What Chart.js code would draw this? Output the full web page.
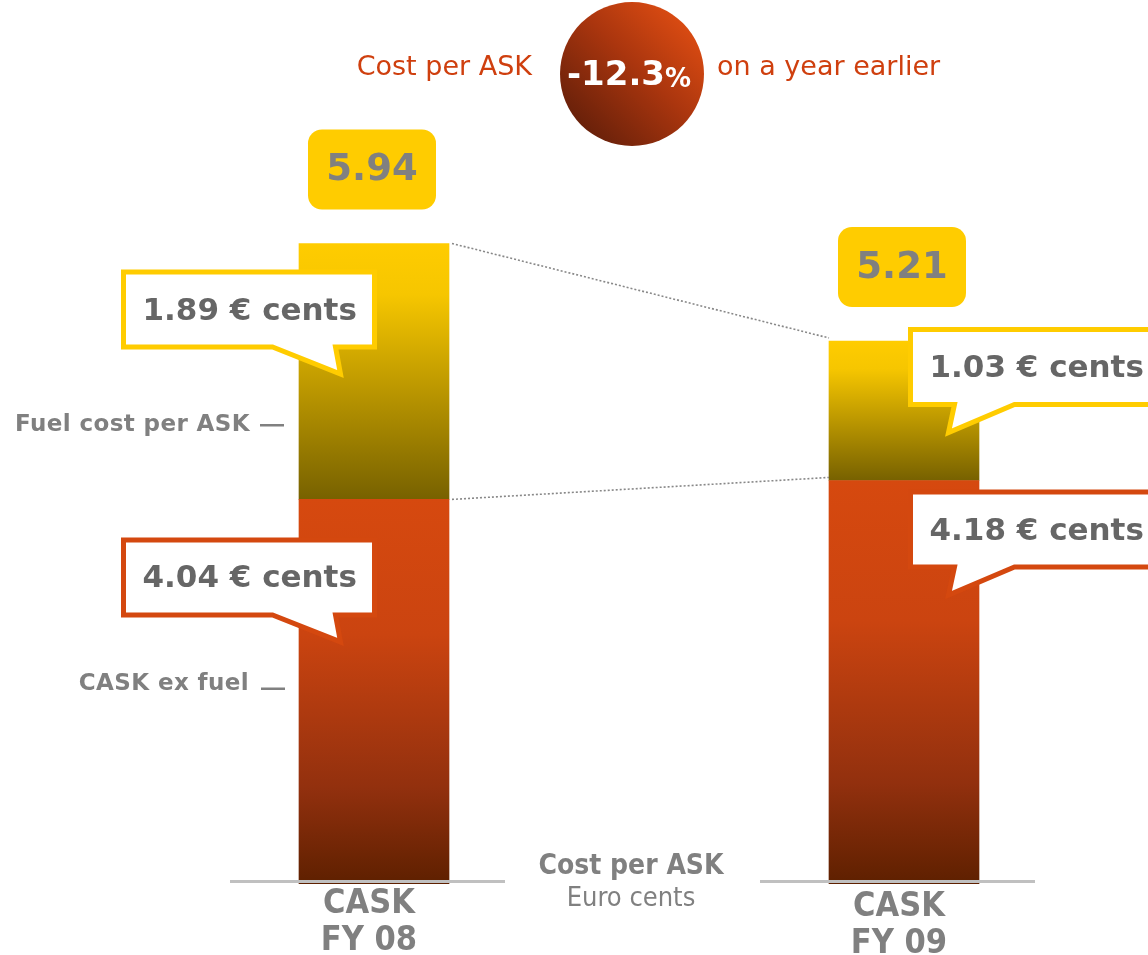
<!DOCTYPE html>
<html>
<head>
<meta charset="utf-8">
<script src="https://cdn.jsdelivr.net/npm/chart.js@4"></script>
<style>
  html, body { margin: 0; padding: 0; background: #fff; overflow: hidden; }
  canvas { display: block; }
</style>
</head>
<body>
<canvas id="cask_chart" width="1148" height="955"></canvas>
<script>
// values (euro cents per ASK)
var categories = [['CASK', 'FY 08'], ['CASK', 'FY 09']]
var seriesNames = ['CASK ex fuel', 'Fuel cost per ASK']
var exFuel = [4.04, 4.18]
var fuelCost = [1.89, 1.03]
var totals = [5.94, 5.21]
var changeText = '-12.3'
var headerLeft = 'Cost per ASK'
var headerRight = 'on a year earlier'
var axisTitle = ['Cost per ASK', 'Euro cents']

const GREY = '#808080'
const TEXT_GREY = '#666666'
const YELLOW = '#FFCC00'
const ORANGE = '#D4480F'
const HEAD_RED = '#CF3F0E'

function segBounds(chart, dsIndex, i) {
  const y = chart.scales.y
  if (dsIndex === 0) {
    return { top: y.getPixelForValue(exFuel[i]), bottom: chart.chartArea.bottom }
  }
  return { top: y.getPixelForValue(exFuel[i] + fuelCost[i]), bottom: y.getPixelForValue(exFuel[i]) }
}

function fillFor(dsIndex, fallback) {
  return function(ctx) {
    const chart = ctx.chart
    if (!chart.chartArea || ctx.type !== 'data') return fallback
    const b = segBounds(chart, dsIndex, ctx.dataIndex)
    const g = chart.ctx.createLinearGradient(0, b.top, 0, b.bottom)
    if (dsIndex === 0) {
      g.addColorStop(0, '#D6490F')
      g.addColorStop(0.35, '#CB4410')
      g.addColorStop(0.75, '#92300E')
      g.addColorStop(1, '#5E2000')
    } else {
      g.addColorStop(0, '#FFCC00')
      g.addColorStop(0.2, '#F6C600')
      g.addColorStop(1, '#776100')
    }
    return g
  }
}

function roundRect(c, x, y, w, h, r) {
  c.beginPath()
  c.moveTo(x + r, y)
  c.arcTo(x + w, y, x + w, y + h, r)
  c.arcTo(x + w, y + h, x, y + h, r)
  c.arcTo(x, y + h, x, y, r)
  c.arcTo(x, y, x + w, y, r)
  c.closePath()
}

// speech bubble, tail on the bottom edge pointing into the bar
function bubble(c, x, y, w, h, side, color, text) {
  c.save()
  c.beginPath()
  c.moveTo(x, y)
  c.lineTo(x + w, y)
  c.lineTo(x + w, y + h)
  if (side === 'left') {
    c.lineTo(x + 212, y + h)
    c.lineTo(x + 217, y + h + 27)
    c.lineTo(x + 149, y + h)
  } else {
    c.lineTo(x + 104, y + h)
    c.lineTo(x + 38, y + h + 28)
    c.lineTo(x + 44, y + h)
  }
  c.lineTo(x, y + h)
  c.closePath()
  c.fillStyle = '#fff'
  c.fill()
  c.lineWidth = 5
  c.lineJoin = 'miter'
  c.strokeStyle = color
  c.stroke()
  c.fillStyle = TEXT_GREY
  c.font = 'bold 31px "DejaVu Sans"'
  c.textAlign = 'left'
  c.textBaseline = 'middle'
  c.fillText(text, x + 19, y + h / 2 + 2)
  c.restore()
}

const decorations = {
  id: 'decorations',
  afterDatasetsDraw(chart) {
    const c = chart.ctx
    const area = chart.chartArea
    const redBars = chart.getDatasetMeta(0).data
    const fuelBars = chart.getDatasetMeta(1).data

    // baselines
    c.save()
    c.strokeStyle = '#C0C0C0'
    c.lineWidth = 3
    redBars.forEach(function(bar) {
      c.beginPath()
      c.moveTo(bar.x - 144, area.bottom - 2.5)
      c.lineTo(bar.x + 131, area.bottom - 2.5)
      c.stroke()
    })

    // dotted connectors between the bars
    c.strokeStyle = '#888'
    c.lineWidth = 1.6
    c.setLineDash([2, 2])
    ;[fuelBars, redBars].forEach(function(bars) {
      const a = bars[0], b = bars[1]
      c.beginPath()
      c.moveTo(a.x + a.width / 2 + 3, a.y)
      c.lineTo(b.x - b.width / 2, b.y - 3)
      c.stroke()
    })
    c.setLineDash([])
    c.restore()

    // totals in yellow boxes
    fuelBars.forEach(function(bar, i) {
      const bw = 128, bh = 80
      const bx = bar.x - bw / 2 - 2
      const by = bar.y - 34 - bh
      c.save()
      roundRect(c, bx, by, bw, bh, 14)
      c.fillStyle = YELLOW
      c.fill()
      c.fillStyle = GREY
      c.font = 'bold 37px "DejaVu Sans"'
      c.textAlign = 'center'
      c.textBaseline = 'middle'
      c.fillText(totals[i].toFixed(2), bx + bw / 2, by + bh / 2 + 1)
      c.restore()
    })

    // callouts
    const offsets = [[26, 38], [-14, 9]]
    ;[redBars, fuelBars].forEach(function(bars, ds) {
      const vals = ds === 0 ? exFuel : fuelCost
      const color = ds === 0 ? ORANGE : YELLOW
      bars.forEach(function(bar, i) {
        const left = bar.x - bar.width / 2
        const side = i === 0 ? 'left' : 'right'
        const w = 256, h = 80
        const x = side === 'left' ? left + 78 - w : left + 79
        const off = ds === 1 ? offsets[i][0] : offsets[i][1]
        bubble(c, x + 2.5, bar.y + off + 2.5, w - 5, h - 5, side, color, vals[i].toFixed(2) + ' € cents')
      })
    })

    // series labels on the left
    c.save()
    c.fillStyle = GREY
    c.strokeStyle = GREY
    c.lineWidth = 2.5
    c.font = 'bold 23px "DejaVu Sans"'
    c.letterSpacing = '0.4px'
    c.textAlign = 'right'
    c.textBaseline = 'middle'
    const b0 = fuelBars[0]
    const barLeft = b0.x - b0.width / 2
    const fb = segBounds(chart, 1, 0)
    const rb = segBounds(chart, 0, 0)
    const fy = fb.top + 0.71 * (fb.bottom - fb.top)
    const ry = rb.top + 0.49 * (rb.bottom - rb.top)
    c.fillText(seriesNames[1], barLeft - 49, fy)
    c.fillText(seriesNames[0], barLeft - 50, ry - 4)
    c.beginPath()
    c.moveTo(barLeft - 39, fy); c.lineTo(barLeft - 15, fy)
    c.moveTo(barLeft - 38, ry + 1); c.lineTo(barLeft - 14, ry + 1)
    c.stroke()
    c.restore()

    // category labels and axis title
    c.save()
    c.fillStyle = GREY
    c.textAlign = 'center'
    c.textBaseline = 'middle'
    c.font = 'bold 34px "DejaVu Sans Condensed", "DejaVu Sans"'
    redBars.forEach(function(bar, i) {
      const dy = i === 0 ? 0 : 3
      c.fillText(categories[i][0], bar.x - 5, area.bottom + 20 + dy)
      c.fillText(categories[i][1], bar.x - 5, area.bottom + 57 + dy)
    })
    const mid = (redBars[0].x + redBars[1].x) / 2 - 8
    c.font = 'bold 28px "DejaVu Sans Condensed", "DejaVu Sans"'
    c.fillText(axisTitle[0], mid, area.bottom - 17)
    c.font = '27px "DejaVu Sans Condensed", "DejaVu Sans"'
    c.fillText(axisTitle[1], mid, area.bottom + 15)
    c.restore()
  },
  afterDraw(chart) {
    // header with the change circle
    const c = chart.ctx
    const bars = chart.getDatasetMeta(0).data
    const cx = (bars[0].x + bars[1].x) / 2 - 7
    const cy = 74, r = 72
    c.save()
    const g = c.createLinearGradient(cx + r * 0.7, cy - r * 0.7, cx - r * 0.7, cy + r * 0.7)
    g.addColorStop(0, '#D84A12')
    g.addColorStop(0.45, '#A9350E')
    g.addColorStop(1, '#6A210A')
    c.beginPath()
    c.arc(cx, cy, r, 0, Math.PI * 2)
    c.fillStyle = g
    c.fill()

    c.fillStyle = '#fff'
    c.textBaseline = 'middle'
    c.textAlign = 'left'
    c.font = 'bold 34px "DejaVu Sans"'
    const w1 = c.measureText(changeText).width
    c.font = 'bold 26px "DejaVu Sans"'
    const w2 = c.measureText('%').width
    let tx = cx - 3 - (w1 + w2) / 2
    c.font = 'bold 34px "DejaVu Sans"'
    c.fillText(changeText, tx, cy + 2)
    c.font = 'bold 26px "DejaVu Sans"'
    c.fillText('%', tx + w1, cy + 6)

    c.fillStyle = HEAD_RED
    c.font = '27px "DejaVu Sans"'
    c.textAlign = 'right'
    c.fillText(headerLeft, cx - r - 28, cy - 6)
    c.textAlign = 'left'
    c.fillText(headerRight, cx + r + 13, cy - 6)
    c.restore()
  }
}

const ctx = document.getElementById('cask_chart').getContext('2d')
const cask_chart = new Chart(ctx, {
  type: 'bar',
  data: {
    labels: categories,
    datasets: [
      {
        label: seriesNames[0],
        data: exFuel,
        backgroundColor: fillFor(0, ORANGE),
        barThickness: 150,
        clip: { left: false, right: false, top: false, bottom: 0 }
      },
      {
        label: seriesNames[1],
        data: fuelCost,
        backgroundColor: fillFor(1, YELLOW),
        barThickness: 150,
        clip: { left: false, right: false, top: false, bottom: 0 }
      }
    ]
  },
  options: {
    responsive: false,
    animation: false,
    layout: {
      padding: { left: 374, right: 244, top: 234, bottom: 71 }
    },
    scales: {
      x: { display: false, stacked: true, offset: false },
      y: { display: false, stacked: true, min: 1.2, max: 6.0 }
    },
    plugins: {
      legend: { display: false },
      title: { display: false },
      tooltip: { enabled: false }
    }
  },
  plugins: [decorations]
})
</script>
</body>
</html>
